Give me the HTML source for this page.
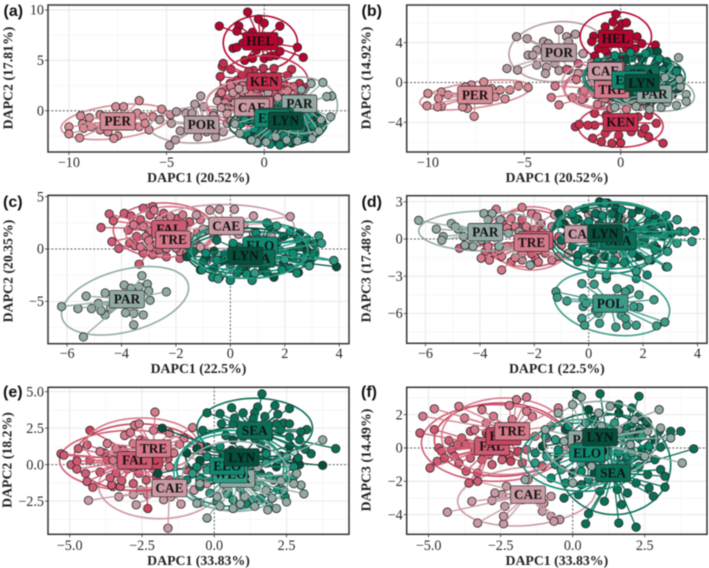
<!DOCTYPE html>
<html lang="en">
<head>
<meta charset="utf-8">
<title>DAPC scatter panels</title>
<style>
html,body{margin:0;padding:0;background:#fff;width:709px;height:568px;overflow:hidden}
svg{display:block;filter:blur(0.5px)}
text{font-family:"Liberation Serif",serif}
</style>
</head>
<body>
<svg id="chart" width="709" height="568" viewBox="0 0 709 568" xmlns="http://www.w3.org/2000/svg"></svg>
<script>
// ---------- Panel (a) ----------
const aXTicks=[-10,-5,0];const aXLabels=['−10','−5','0'];
const aYTicks=[0,5,10];const aYLabels=['0','5','10'];
const aXTitle='DAPC1 (20.52%)';const aYTitle='DAPC2 (17.81%)';
const aPER=[[-10,-1.6],[-10,-2.3],[-9.45,-2.7],[-9.4,-.5],[-9.3,-1.3],[-8.95,-.7],[-8.4,-.4],[-7.6,.4],[-7.2,.4],[-6.4,1],[-7.5,-2.5],[-7.7,-2.75],[-8.4,-1.9],[-8,-2.1],[-9.25,-1.75],[-8.85,-1.6],[-6.5,-.25],[-6.2,-.6],[-5.7,-.6],[-5.25,.15],[-5.9,-1.9],[-6.4,-1.6],[-4.8,-.4],[-6.1,-1.25]];
const aPOR=[[-4.85,-3.45],[-4.55,-2.9],[-4.3,-2],[-5.35,-.9],[-4.5,-.1],[-4,-.25],[-3.7,-.25],[-3.25,1.45],[-3.55,.65],[-3.1,.4],[-2.5,-2.6],[-2.95,-2.1],[-2.1,-2.1],[-1.9,-1.25],[-2.6,-.25],[-4.75,-1.25],[-3.4,-2.6]];
const aHEL=[[-.85,9.8],[-2.3,8.4],[-.3,9.1],[0,8.7],[.8,8.4],[-1.3,8.4],[-1.4,7.9],[-1.6,6.2],[-1.4,6.3],[1.7,6.3],[2,5.3],[.75,6.9],[-1,5],[-.6,5.2],[0,5.2],[.3,5.4],[.6,5.5],[.8,5.9],[-.4,6],[-.8,7.4],[-.6,7.8],[-1.1,6.7],[.1,6.7]];
const aKEN=[[-2.15,4.4],[-1.7,4.1],[-2.25,3.4],[-2.1,4.7],[1.4,4.1],[1.2,3.5],[.5,4.2],[-.05,4.2],[-.55,4],[-1.15,3.5],[-.8,3.9],[-1.4,3],[-1.75,2.7],[1.8,2.7],[2.1,2.3],[1,2.7],[-.2,2.2],[-.9,2],[.45,2]];
const aFAL=[[-2.1,2.2],[-1.5,2.6],[-.8,2.7],[.1,2.8],[.8,2.6],[1.5,2.4],[2,2],[-1.9,1.2],[-1.2,1.6],[-.3,1.5],[.5,1.7],[1.1,.8],[-1.1,.4],[-1.6,.3],[-.7,1.1],[.2,.5],[1.7,1.5],[-2.3,1.5],[.9,2]];
const aTRE=[[-2.2,1.8],[-1.7,2.4],[-1.1,2.5],[-.3,2.6],[.5,2.5],[1.2,2],[1.8,1.3],[-2,.8],[-1.4,1.3],[-.7,1.7],[.1,1.1],[.9,1.1],[1.4,-.1],[-.6,.4],[-1.9,.3],[-.9,1],[.4,.6],[1.6,.6],[-1.3,-.3],[-.2,-.2]];
const aCAE=[[-2.4,1],[-2,.2],[-1.6,1.8],[-1,2.1],[-.4,2.2],[-1.9,-.3],[-2.6,-.5],[.2,1.8],[.7,1.3],[-1.2,-1],[-.6,1],[.9,.4],[-1.5,.8],[-1.7,-1],[-.9,-.5],[0,.4],[-2.2,.3],[-1.3,2.2]];
const aPAR=[[3,2.8],[3.45,1.45],[3.2,1.4],[3.4,-.6],[2.45,-2.75],[-.4,-3.1],[-.65,-2.9],[-1.25,-2.25],[1.9,2.1],[2.4,2.7],[.1,-3.1],[1.15,-2.9],[2.9,-.9],[-1.5,-1.3],[.6,-2.6],[1.7,-3],[2.8,-2]];
const aSEA=[[1,-3.2],[.1,-2.9],[1.5,-2.5],[-.2,-2],[2,-1.3],[2.6,-1.7],[.7,-1],[1.3,-.3],[.3,-1.7],[1,-1.6],[1.8,-.9],[-.5,-1],[2.3,-2.3]];
const aELO=[[-.3,-3.2],[.3,-3.3],[.8,-3.4],[1.3,-3.1],[1.8,-2.7],[-.9,-2.3],[-1.2,-1.3],[2.5,-1.5],[2.9,-1.2],[-.5,-1.8],[.2,-2.4],[1,-2.5],[1.5,-2],[2.2,-.7],[-1.2,-.4],[.5,-1.6],[-1,-.9],[-.3,-.6],[.6,-.5],[1.2,-1.2],[1.9,-1.8],[2.4,-.3],[-.7,-2.9],[.1,-1.4],[1.6,-3]];
const aLYN=[[0,-2.5],[.6,-3],[1.1,-2.7],[1.7,-2.3],[2.3,-2],[-.5,-2.4],[2.7,-.8],[-.8,-1],[.9,-1.9],[1.5,-1],[2.1,-.1],[.3,-.5],[.4,-1.3],[1.2,-2.2],[2,-1.1],[-.3,-1.2],[.6,-2.2],[2.6,-1.4],[1.4,-3.2],[-.2,-3],[2.2,-2.6]];
const aGroups=['PER','POR','HEL','KEN','FAL','TRE','CAE','PAR','SEA','ELO','LYN'];
const aPoints=[aPER,aPOR,aHEL,aKEN,aFAL,aTRE,aCAE,aPAR,aSEA,aELO,aLYN];
const aCenters=[[-7.5,-1.05],[-3.2,-1.4],[-.2,6.9],[0,2.9],[-.4,.6],[-.45,.5],[-.63,.33],[1.8,.7],[.6,-.6],[.4,-.75],[1.1,-1]];
const aEllipses=[[-7.6,-1.1,2.82,1.65,-7],[-3.3,-1.4,2.55,1.8,-3],[-.2,6.75,1.9,2.7,0],[0,2.9,2.25,2.55,0],[-.55,.75,2.4,2.3,0],[-.4,.9,2.55,2.15,0],[-.8,.4,2.2,2.65,0],[1.85,.55,1.9,2.8,0],[.95,-1.4,2.2,2.05,0],[.45,-1.25,1.9,2.15,0],[.7,-1.4,2.5,1.85,0]];

// ---------- Panel (b) ----------
const bXTicks=[-10,-5,0];const bXLabels=['−10','−5','0'];
const bYTicks=[-4,0,4];const bYLabels=['−4','0','4'];
const bXTitle='DAPC1 (20.52%)';const bYTitle='DAPC3 (14.92%)';
const bPER=[[-10,-1.1],[-10.05,-2.35],[-9.3,-.95],[-9.45,-1.6],[-9.3,-2.4],[-9.5,-2.45],[-8.95,-1.25],[-7.1,.05],[-7.75,-.25],[-7.6,-3.4],[-7.95,-2.6],[-8.2,-2.45],[-6,-1.65],[-6.25,-.75],[-5.75,-.75],[-5.3,-.35],[-4.8,-.5],[-6.7,-.6],[-6.5,-1.45],[-8.05,-.45]];
const bPOR=[[-5.4,4.6],[-4.85,4.4],[-5.9,1.4],[-5.35,1.25],[-3.2,5.3],[-2.8,4.6],[-2.35,4.85],[-4.35,3.25],[-4.8,2.75],[-4.55,2.75],[-4,4.1],[-3.75,3.9],[-4.35,1.75],[-3.85,1.55],[-3.9,.9],[-3.4,1.9],[-1.95,2.9],[-2.7,1.25],[-2.7,4.1],[-3.2,1.2]];
const bHEL=[[-.25,6.85],[-.8,5.6],[-.4,6.1],[.05,5.9],[.3,6],[-1.4,4.65],[-1.5,4.1],[.85,4.6],[1.8,3.75],[-1.35,2.65],[-.65,2.75],[.75,3.4],[1.1,3.9],[-.1,5.25],[-.8,3.25],[.3,3.4],[-1.15,3.4],[.05,2.6]];
const bKEN=[[-2.35,-4.45],[-2.15,-4.2],[2.2,-6.1],[1.85,-4.1],[1.45,-5.45],[-1.45,-5.6],[-1,-5.95],[-.45,-6.1],[0,-6.05],[-1.35,-4.3],[-1.7,-4.3],[-.8,-5.1],[.55,-4.95],[1.1,-5.1],[1.25,-4.6],[.9,-3.45],[-.75,-3.3],[-1.35,-3.1],[1.45,-3.3],[-.1,-5.3]];
const bFAL=[[-2.8,1.3],[-2.2,1.9],[-1.5,2],[-.8,1.9],[-1.9,-1.6],[-1.3,-1.2],[-.6,-1.7],[.2,-1.9],[.8,-.3],[1.6,-1.9],[-1,.7],[-.2,.5]];
const bCAE=[[-2.2,.9],[-1.7,-.2],[-1.3,1.7],[-.6,1.4],[.1,2],[.7,.8],[-.3,-1],[-1,-2],[.4,-1.4],[-2,-.9],[-.8,.2]];
const bTRE=[[-3.4,-.35],[-3.6,-1.5],[-3.2,-2.25],[-2.3,.3],[-1.9,-.8],[-1.6,1],[-1.2,-2.2],[-.5,-2.6],[.3,-2.7],[1,-2.4],[.5,.4],[-1,.1],[-2.5,-1.5],[-.2,1.3],[-2,-1.7],[-1.4,-.8],[-.8,-1.6],[-.1,-1.3],[.6,-1.9],[1.5,-2.5]];
const bPAR=[[3,2.5],[3.4,-1.2],[3.4,-1.9],[3.1,-.4],[2.9,-2.3],[2.1,-2.5],[1.5,-2.7],[-.3,-2.5],[3.05,.3],[2.6,-1.3],[1.2,-1.8],[.3,-1.6],[2.3,.5],[2.4,-2],[1.9,-1],[.8,-2.4]];
const bSEA=[[-.2,2.2],[.6,2.5],[1.5,3.1],[2.2,1.3],[2.8,-.1],[1,1.6],[.3,-.6],[1.5,-.7],[2.3,-1.6],[-1,1.2],[.1,1],[1.9,2.2],[.9,.2],[2.5,.8],[2.7,-1.2]];
const bELO=[[-1.2,2.1],[-.3,2.7],[.5,3],[1.3,2.9],[2,2.4],[2.6,1.5],[3,.5],[-.6,.9],[.4,1.2],[1.4,1],[2,.1],[.8,-.9],[2.4,-.8],[-.2,-.3],[-1.5,1.2],[-.7,1.8],[.1,.5],[1,.2],[1.8,1.5],[2.5,.7],[3.1,-.2],[.3,-.8],[1.5,-1.5],[2.9,1.1]];
const bLYN=[[-.5,1.6],[.3,2.3],[1.1,2.4],[1.9,3.1],[2.4,2.1],[2.9,1.2],[-.1,.3],[1.3,.5],[2.5,-.3],[.7,-1.3],[1.8,-1.5],[-.9,.6],[.1,1.4],[.8,1.4],[1.7,.9],[2,-.7],[3,-.6],[.2,-1.7],[1.2,-.7]];
const bGroups=['PER','POR','HEL','KEN','FAL','CAE','TRE','PAR','SEA','ELO','LYN'];
const bPoints=[bPER,bPOR,bHEL,bKEN,bFAL,bCAE,bTRE,bPAR,bSEA,bELO,bLYN];
const bCenters=[[-7.55,-1.25],[-3.2,3],[-.25,4.4],[0,-4],[-.7,1.2],[-.8,1.15],[-.45,-.7],[1.75,-1.15],[1.1,.85],[.45,.25],[1.1,-.05]];
const bEllipses=[[-7.55,-1.25,2.9,1.3,-8],[-3.25,3.1,2.55,3,-5],[-.25,4.6,1.85,2.5,0],[0,-4.4,2.2,2.1,0],[-1.05,-.6,1.9,2,0],[-1,-.1,2.05,2.35,0],[-.65,-.75,2.25,2,0],[1.45,-.75,2.4,2,10],[.75,.55,2.6,2.35,0],[.55,.55,2.5,2.35,0],[.9,.25,2.25,2.5,0]];

// ---------- Panel (c) ----------
const cXTicks=[-6,-4,-2,0,2,4];const cXLabels=['−6','−4','−2','0','2','4'];
const cYTicks=[-5,0,5];const cYLabels=['−5','0','5'];
const cXTitle='DAPC1 (22.5%)';const cYTitle='DAPC2 (20.35%)';
const cPAR=[[-6.2,-5.5],[-5.4,-8.4],[-5.3,-4.5],[-5.6,-5.7],[-5.1,-5.7],[-4.85,-5.2],[-4.6,-4.2],[-4.6,-6.3],[-4.75,-5.9],[-3.9,-3.45],[-3.25,-2.55],[-3.05,-3.35],[-3.35,-3.6],[-3,-4],[-2.35,-4.1],[-2.95,-4.9],[-3.2,-6.3],[-3.55,-6.15],[-3.55,-7.25],[-3.85,-6.1],[-3.65,-3.75],[-4.4,-5.65]];
const cFAL=[[-4.75,2.05],[-4.45,3.35],[-4.3,2.7],[-4.35,.7],[-4.1,.05],[-3.9,3.4],[-3.65,3.15],[-3.2,3.9],[-2.85,4.05],[-3.35,-1.45],[-3.75,1.8],[-3.7,.55],[-3.2,-.4],[-2.85,-.55],[-2.35,-.75],[-1.85,-.9],[-3.3,2.8],[-2.95,3.25],[-2.45,3.4],[-1.95,2.9],[-1.5,2.6],[-3.45,1.2],[-3,1.5],[-2.6,.9],[-2.2,2.3],[-1.8,1.6],[-1.5,.4],[-3.5,.3],[-2.6,-.1],[-2,.5],[-2.7,2.4],[-1.7,2.3]];
const cTRE=[[-3.2,2.15],[-3.1,1.2],[-2.95,.2],[-2.6,2.8],[-2.2,3.1],[-1.75,3.25],[-1.1,2.8],[-.85,1.8],[-1.25,.55],[-1.85,-.25],[-3.55,2.3],[-3.3,.2],[-2.35,.05],[-1.5,1.2],[-2.8,3.7],[-2.9,1.7],[-2.4,1.4],[-2,1.9],[-2.7,.5],[-2,.1],[-1.2,1.6],[-3,.8],[-1.6,-.4]];
const cCAE=[[2.2,3.1],[.85,3.15],[.15,3.8],[-.4,3.8],[-.75,3.7],[-1.25,3.25],[1.35,2.45],[-.6,1.2],[-1.1,.2],[-1.85,1.8],[.1,.2],[-.85,-1.05],[.85,1.5],[-.3,2.6],[.5,2.3],[-1,1.9],[1.5,1.3],[.3,1.4]];
const cWEO=[[-.45,-2.85],[3.8,-1.1],[2.9,-1.6],[3.25,1.25],[3.35,.55],[1.7,2.2],[.9,-2.3],[2,-1],[.2,-.8],[1.2,.9]];
const cELO=[[3.8,-1.1],[-1.05,-2],[-.65,-2.7],[0,-3],[.8,-3],[2.45,-2.3],[2.9,-1.6],[2.8,.85],[2.2,1.65],[1.35,2.5],[.95,1.5],[.1,.55],[1.35,-.75],[2.3,-.4],[-.5,-1.05],[.5,-.6],[1,.9],[1.8,-.1],[2.5,.9],[0,-1.5],[.6,-2.4],[1.9,-2],[-.9,-.4],[2.7,-.9],[1.4,.3]];
const cSEA=[[-.4,-2.7],[.25,-2.3],[1.35,-2.3],[2.2,-1.85],[3.05,-.4],[2.55,.2],[1.7,.55],[-1,-1.2],[.7,.85],[-.5,.85],[1.45,2.15],[-1.35,-.25],[.3,.2],[1,-.2],[2,-.9],[.6,-1.4],[-.2,-.5],[1.4,-1.4],[2.7,-1.2],[3.1,.5]];
const cLYN=[[3.9,-1.7],[0,-3],[.8,-3],[1.6,-2.7],[2.5,-2.25],[-1.1,-2],[-.6,-1.85],[2.95,-1.05],[2.8,-.1],[1.95,-1.35],[.35,-2],[-1.6,-.75],[2.55,1.5],[1.95,1.2],[1.1,.2],[.3,-.9],[.9,-1.2],[1.5,-.6],[2.3,-.8],[2.6,.3],[-.3,-1.1],[-.9,-.9],[.6,-1.6],[1.2,-2],[2.2,-1.8],[-.6,-.2],[1.6,.7]];
const cGroups=['PAR','FAL','TRE','CAE','WEO','ELO','SEA','LYN'];
const cPoints=[cPAR,cFAL,cTRE,cCAE,cWEO,cELO,cSEA,cLYN];
const cCenters=[[-3.8,-4.8],[-2.25,1.9],[-2.1,.9],[-.15,2.2],[.9,-.5],[1.1,.3],[1,-.9],[.55,-.65]];
const cEllipses=[[-3.87,-4.95,2.4,2.95,-15],[-2.45,1.8,1.85,2.6,0],[-2.2,1.65,1.65,2.4,0],[-.25,2.15,2.6,2.1,0],[.7,-.1,2.15,2.7,0],[.8,.2,2.35,2.4,0],[.85,-.4,2.4,2.05,0],[.6,-.4,2.2,2.4,0]];

// ---------- Panel (d) ----------
const dXTicks=[-6,-4,-2,0,2,4];const dXLabels=['−6','−4','−2','0','2','4'];
const dYTicks=[-6,-3,0,3];const dYLabels=['−6','−3','0','3'];
const dXTitle='DAPC1 (22.5%)';const dYTitle='DAPC3 (17.48%)';
const dPAR=[[-6.25,1.5],[-5.6,.8],[-5.05,1.25],[-5.35,.2],[-5.4,-.1],[-4.8,.8],[-4.6,.2],[-4.55,-.5],[-3.85,2.05],[-3.55,2.05],[-3.25,1.55],[-3.7,1.55],[-2.95,.45],[-3.3,-.6],[-2.15,-2.1],[-3.95,-.1],[-4.9,1],[-2.55,.6],[-4.25,-.6]];
const dFAL=[[-4.45,-.6],[-4.75,-.75],[-3.3,.45],[-3.45,-1.15],[-2.85,-1.85],[-1.95,-1.55],[-1.6,-1.15],[-1.1,.2],[-1.75,1.25],[-2.45,1.55],[-3.15,1.25],[-2.7,-.5],[-2.2,-.75],[-2,.75],[-2.9,.8],[-3.8,-1],[-2.1,-1.2],[-1.4,-.5],[-2.6,.9]];
const dTRE=[[-3.2,-2.5],[-3.4,2.4],[-2.45,2.55],[-2.1,2.05],[-1.9,1.8],[-2.85,1.65],[-2.7,1],[-3.95,-1.55],[-3.65,-1.7],[-3.2,-1.4],[-2.45,-1.7],[-1.85,-1.85],[-1.35,-1.7],[-1.1,-1.4],[-1,-.5],[-1.35,1],[-3.7,-.6],[-3,-.6],[-2.45,-1.15],[-1.85,-.9],[-3,.9],[-2.3,1],[-1.7,.5],[-3.3,-.9],[-2.7,-1.5]];
const dCAE=[[-1.25,1.95],[-.75,2.35],[.35,-1.4],[-.75,-1.15],[-1.35,-.35],[1,-1.4],[1.7,.45],[1.2,1.55],[0,1.95],[-.6,.7],[.25,.2]];
const dPOL=[[-1.2,-4.25],[-1.15,-4.7],[-.8,-5],[-.25,-3.6],[.2,-3.65],[-.2,-4.8],[-.2,-5.45],[-.1,-5.2],[-.25,-6.4],[-.15,-6.95],[.4,-6.8],[.35,-6],[1,-7.1],[1.4,-6.95],[1.75,-6.95],[2.5,-7],[2.8,-6.7],[2.4,-4.9],[1.85,-5.5],[1.85,-4.5],[1.5,-4.05],[1.35,-4.25],[1.05,-4],[1.65,-5.45],[1.2,-6.15],[1.35,-6.4],[.25,-5.75]];
const dWEO=[[2.9,-2.25],[3.8,-.2],[3.25,-.35],[2.9,-1],[3.55,.6],[3.25,1.55],[1.75,-2.6],[.1,-2.8],[2.2,-1.7],[.65,-2.9]];
const dELO=[[2.15,-2.9],[1.75,-2.6],[1.75,-3.2],[.65,-3.2],[.1,-2.8],[2.85,-2.25],[3.25,1.55],[2.85,1.9],[3.35,.6],[3.9,.65],[2.9,-1],[2.45,-.9],[.6,2.9],[-.6,2.05],[-1.1,1.25],[-.4,-1.85],[1.2,2.35],[2.2,2.05],[.95,-1.7],[1.6,-1.15],[.35,-.6],[2.05,.7],[0,1.4],[.5,1.9],[1,.9],[1.6,1.3],[2.4,1.3],[.2,-.2],[.9,-.7],[1.8,-.4],[-.7,.6],[2.8,.3],[-.2,-.9],[1.3,-1.9]];
const dSEA=[[-1,-.1],[-.5,1.55],[.25,2.05],[.85,2.05],[1.6,2.05],[2.05,-.1],[.25,-.9],[.85,-1.95],[1.35,-1.85],[2.45,.45],[-.6,-.6],[2.7,1.25],[.6,.7],[-.2,.9],[.4,1.2],[1.1,1.2],[1.8,.8],[2.2,1.4],[.5,-.5],[1.3,-.7],[-.4,-1.3],[2.4,-.5]];
const dLYN=[[3.9,.65],[.4,3],[.7,2.9],[-.15,2.45],[1.85,2.35],[2.45,1.65],[2.95,1],[2.5,-.75],[-.4,-1.4],[.2,-1.7],[-1.1,2.05],[1.1,1.8],[0,.7],[1.2,-.35],[.6,-1.4],[1.85,-1.4],[3.05,.45],[-.4,1.6],[.3,2],[1,2.5],[1.5,.8],[2.2,.7],[2.7,.2],[.1,-.9],[.9,-.9],[1.6,-.7],[-.8,.3],[-.9,1.2],[2.3,-1.7]];
const dGroups=['PAR','FAL','TRE','CAE','POL','WEO','ELO','SEA','LYN'];
const dPoints=[dPAR,dFAL,dTRE,dCAE,dPOL,dWEO,dELO,dSEA,dLYN];
const dCenters=[[-3.8,.55],[-1.95,-.1],[-2.1,-.3],[-.25,.4],[.8,-5.2],[.85,.6],[.95,-.1],[1.1,-.15],[.6,.45]];
const dEllipses=[[-3.9,.65,2.35,1.6,0],[-2.2,.05,1.7,2.3,0],[-2.1,.05,1.55,2.55,0],[0,.3,2,2.15,0],[.85,-5.2,2.15,2.5,10],[.85,1,2,1.9,0],[.85,.3,2.25,2.7,0],[.7,-.1,2.1,2.7,0],[.85,.45,2.2,2.4,0]];

// ---------- Panel (e) ----------
const eXTicks=[-5,-2.5,0,2.5];const eXLabels=['−5.0','−2.5','0.0','2.5'];
const eYTicks=[-2.5,0,2.5,5];const eYLabels=['−2.5','0.0','2.5','5.0'];
const eXTitle='DAPC1 (33.83%)';const eYTitle='DAPC2 (18.2%)';
const eCAE=[[-1.6,-4.35],[-4.35,-2.45],[-3.3,-2.2],[-2.8,-2.05],[-2.7,-2.75],[-1.75,-2.4],[-1.15,-2.7],[-.5,-2.6],[-1.5,-2.2],[-2.3,-2.05],[-.7,-1.75],[-.25,-1.3],[-3.5,-1.5],[-1.2,-1.05],[-2,-.8],[-2.55,-1.75]];
const eHEL=[[-4.3,2.35],[-2.3,-3],[-2,-.9]];
const eFAL=[[-5.3,.75],[-5.2,.65],[-4.7,1.1],[-4.4,1.35],[-4.95,0],[-4.75,.25],[-4.75,-.3],[-4.45,-.6],[-4.4,-1.15],[-4.2,-1.55],[-3.55,-1.4],[-3.25,-1.5],[-3.7,.3],[-3.95,-.5],[-2.8,-1.3],[-2.35,-1.05],[-3.4,-.6],[-4.3,.3],[-3.15,1],[-1.55,-1.05],[-.95,-.35],[-2.55,1.7],[-3.6,-.9],[-3,-.3],[-2.6,.5],[-2.1,-.3],[-1.6,.4],[-3.3,.4],[-3.8,.8],[-3.2,-1.1],[-2.6,-.6],[-1.9,-1.4]];
const eTRE=[[-2.05,3.6],[-2.75,2.7],[-2.6,2.8],[-3.1,2],[-3.7,1.45],[-2.1,2.35],[-1.55,2.15],[-.75,2.55],[-1.05,1.8],[-3.95,.9],[-3.5,.3],[-2.8,1.45],[-.5,1.25],[-1.4,.8],[-2.3,.3],[-2.8,-.15],[-1.55,-.15],[-3.4,1.1],[-3,.6],[-2.4,1.6],[-1.9,1.1],[-1.2,1.4],[-2.9,2.2],[-1.8,.4]];
const ePAR=[[3.75,1.7],[3,-1.4],[3.1,-2],[-.25,-3.65],[2.5,-2.55],[1.85,-3.1],[2.15,-3],[1.4,-2.85],[.2,-2.85],[.65,-3],[-.6,-2.65],[2.75,-1.3],[1.05,-2.2],[-.5,-1.3],[1.8,-1.75],[.45,-1.5],[.1,-2.2],[2.85,-.6],[1.3,-1.2],[.3,-.5],[2.3,-1.1],[.9,-2.7],[2,-2.3],[1.5,-.2],[.8,.3]];
const eWEO=[[1.35,-2.4],[.65,-2.4],[-.15,-1.95],[-.75,-.6],[2.4,-1.75],[2.75,-.8],[2.5,.55],[1.8,.1],[.65,.1],[-.25,-.35],[1.45,-1.5],[.3,-1.05],[.9,-1.6],[1.9,-.8],[.1,-2.5],[1.1,-.4],[2,-2.3],[-.5,-1]];
const eELO=[[1.9,-2.85],[2.45,-2.2],[1.1,-2.65],[.45,-2],[-.95,-1.05],[-.6,-.15],[-.25,.55],[2.6,-1.05],[2.75,-.15],[1.35,-1.05],[2.05,-1.05],[.2,1.25],[.9,1],[1.8,.75],[-.05,-1.05],[.7,-.6],[1.5,-.2],[2.2,-1.7],[0,.1],[.4,-1.3],[1,-2],[1.6,-2.3],[-.5,-1.5],[2.2,.3]];
const eSEA=[[1.65,4.85],[1.5,3.95],[.6,3.9],[-.25,3.55],[.2,3.5],[1,3.55],[1.4,3.55],[1.75,3.3],[2.2,3.45],[2.6,3.85],[2.1,4.05],[3.2,2.4],[4.2,1.1],[3,2.25],[3.35,.75],[3.15,1.05],[.25,2.8],[2.4,2.85],[2.15,2.8],[1.9,1.9],[2.6,1.9],[2.95,1.7],[2.9,.45],[1.35,3.15],[.65,2.8],[-.4,2.35],[1.6,1.45],[1,1.9],[1.2,2.5],[1.8,2.6],[.9,2.2],[2.3,2.4],[.4,2],[1.4,1.8],[.7,3.2],[2.6,2.8]];
const eLYN=[[3.75,-.05],[2.95,0],[-1.8,2.5],[-1.95,-.6],[-.95,.8],[-.25,1.2],[.65,1.7],[1.6,2.15],[2.6,1.25],[2.85,.3],[1.6,-.6],[.9,-.8],[.1,-.35],[2.15,-.15],[-.5,.3],[1.25,.55],[.3,.6],[1,.3],[1.8,1],[2.3,.6],[.6,1],[-.6,1.1],[1.4,-.2]];
const eGroups=['CAE','HEL','FAL','TRE','PAR','WEO','ELO','SEA','LYN'];
const ePoints=[eCAE,eHEL,eFAL,eTRE,ePAR,eWEO,eELO,eSEA,eLYN];
const eCenters=[[-1.55,-1.6],[-2.4,.3],[-2.75,.3],[-2.1,1.1],[.8,-.95],[.55,-.65],[.45,-.1],[1.4,2.35],[.95,.5]];
const eEllipses=[[-1.9,-1.45,2.1,2.25,0],[-2.6,.5,2.25,2.3,0],[-2.85,.3,2.5,2.05,0],[-2.5,1.35,1.95,1.85,0],[.75,-.8,1.85,2.4,0],[.55,-.5,1.95,2.6,0],[.55,-.25,1.85,2.6,0],[1.4,2.5,2,2.05,0],[.95,.65,1.95,1.95,0]];

// ---------- Panel (f) ----------
const fXTicks=[-5,-2.5,0,2.5];const fXLabels=['−5.0','−2.5','0.0','2.5'];
const fYTicks=[-4,-2,0,2];const fYLabels=['−4','−2','0','2'];
const fXTitle='DAPC1 (33.83%)';const fYTitle='DAPC3 (14.49%)';
const fCAE=[[-4.35,-3.85],[-3.5,-3.2],[-3.3,-4.5],[-2.4,-4.55],[-2.4,-4.1],[-2.35,-3.5],[-2.45,-2.8],[-2.8,-3.15],[-2.7,-2.7],[-2.3,-2.3],[-1.05,-3.8],[-.75,-4.1],[-.45,-4.3],[-.65,-4.4],[-.75,-2.9],[-1,-3.3],[-1.75,-3.1],[-3.3,-2],[-1.55,-1.9]];
const fFAL=[[-5.3,.9],[-4.8,1.1],[-4.3,.45],[-4.65,0],[-4.55,-.2],[-4.45,-.6],[-4.7,-.8],[-4.95,-1.2],[-3.95,-.9],[-3.7,-1.4],[-3.3,-1.5],[-3.6,-2.1],[-3.3,-2],[-3.85,.6],[-3.55,1],[-3.15,-.7],[-2.45,-.7],[-1.75,-.9],[-4.2,-.1],[-2.8,-1],[-3.55,-.6],[-1.05,-1.1],[-3.7,.2],[-3.2,.3],[-2.7,.3],[-2.2,-.4],[-4,.2],[-3.4,-.2],[-2.9,-.4],[-1.6,-.1],[-2.4,.1],[-4.1,-.5]];
const fHEL=[[-2.15,-.8],[-3,.9],[-1.9,-.2]];
const fTRE=[[-1.6,3.05],[-1.95,2.9],[-2.2,2.55],[-3.95,2.5],[-4.8,2.35],[-5.2,1.9],[-3.75,1.8],[-3.15,2.3],[-2.75,1.9],[-.5,2.4],[-1.4,1.9],[-.75,1.3],[-2.1,1.7],[-3.4,1.1],[-1.3,.7],[-2.45,.5],[-3,1.5],[-2.5,1.1],[-1.9,1.2],[-.9,.6],[-2.9,.8],[-1.6,2.2]];
const fPAR=[[3,2.3],[3.05,1.2],[3.4,.6],[3.8,-.9],[.3,3.05],[1.3,2.5],[0,2.6],[-1.65,-1.9],[0,-2.1],[1,1.3],[2.15,1.7],[-.95,1.1],[-.5,2.1],[.65,-1.1],[2.5,-.5],[.4,.9],[1.6,1.1],[.2,-.3],[1.1,.2],[2,.2],[-.3,.4],[2.6,1],[.9,2.1]];
const fWEO=[[-.4,-1.3],[.3,-.9],[1.25,-1.3],[2.05,-.3],[1.45,1.5],[.45,1.5],[-.6,.5],[-1.3,-.9],[2.4,.7],[.8,-.6],[1.7,-1],[.9,.6],[-.1,.6],[-.9,-.5],[1.7,.7]];
const fELO=[[-.75,-1.8],[-.25,-2.1],[.55,-1.9],[1.45,-1.7],[2.3,-1.1],[2.65,.1],[2.05,1.5],[-1.3,-.3],[-.95,.7],[-.15,1.3],[.75,.1],[1.6,-.3],[.2,-.4],[1,-.7],[1.9,-.5],[-.6,-1],[.3,-1.4],[1.2,.8],[2.3,.6],[-.5,-.1]];
const fSEA=[[.15,3.2],[.95,3.25],[2.3,3.1],[1.6,2.6],[2.05,2.4],[2.3,1.9],[2.55,1.6],[3,1],[3.4,1],[3.75,1],[4.2,-.05],[3.05,.05],[2.6,-1.6],[3.05,-1.3],[3.2,-1.7],[3.2,-2.35],[2.8,-2.9],[2.65,-2.4],[2.2,-4.75],[1.6,-4.5],[1.7,-3.4],[1.9,-2.7],[1.55,-2.5],[.55,-3.95],[.45,-4.55],[.2,-2.8],[-.3,-3],[.95,-2.6],[2.2,-2.1],[2.85,-.7],[1,-1.8],[1.8,-.9],[.6,-1],[2.4,-.5],[1.3,.2],[2,.7],[1.1,-3.2],[.3,-2.2]];
const fLYN=[[.15,3.2],[.75,1.7],[1.6,2.1],[2.6,1.5],[2.4,-.1],[1.8,-1.1],[.75,-1.5],[-.5,-.5],[-.25,1.1],[.55,2.3],[1.35,.7],[2.85,.5],[0,-1.5],[2.05,.8],[-1.05,.1],[.4,.7],[1,1.2],[1.9,1.3],[.3,-.3],[1.1,-.2],[2,.2],[-.3,.4],[2.3,1]];
const fGroups=['CAE','FAL','HEL','TRE','PAR','WEO','ELO','SEA','LYN'];
const fPoints=[fCAE,fFAL,fHEL,fTRE,fPAR,fWEO,fELO,fSEA,fLYN];
const fCenters=[[-1.55,-2.8],[-2.8,.1],[-2.4,.7],[-2.1,1],[.45,.5],[.65,-.2],[.5,-.3],[1.4,-1.5],[.95,.65]];
const fEllipses=[[-1.6,-2.9,2.4,1.75,-5],[-2.7,.3,2.55,2.3,0],[-2.5,.5,2.3,2.2,0],[-2.35,.7,2.2,2.3,0],[.95,.5,1.95,2.3,0],[.3,-.3,1.85,2,0],[.35,-.55,2.15,2.05,0],[1.45,-1,1.95,3,0],[.85,.2,1.9,1.9,0]];

// ---------- Layout and styling (not data) ----------
const groupColors={HEL:'#b5062f',KEN:'#c5304f',FAL:'#cf5c73',TRE:'#d67a8b',CAE:'#c99aa3',PER:'#d68b95',POR:'#b79da1',PAR:'#93aaa4',WEO:'#2f9a84',ELO:'#0f8a72',SEA:'#0b6f58',LYN:'#03503d',POL:'#3c9c88'};
const softHel={HEL:'#c9445f'};
// paint order: dark greens first so the lighter green spiders lie over them; labels keep their own order
const paintRank={LYN:1,SEA:2,ELO:3,WEO:4,POL:5,PAR:6};
const layouts=[
 {id:'a',xd:[-11.07,4.34],yd:[-4.1,10.5],box:[48,5,349,152],xT:aXTicks,xL:aXLabels,yT:aYTicks,yL:aYLabels,xTitle:aXTitle,yTitle:aYTitle,groups:aGroups,points:aPoints,centers:aCenters,ellipses:aEllipses,tag:[3.5,16],xtY:167,tY:182,ytX:8,ytY:78},
 {id:'b',xd:[-11.1,4.48],yd:[-6.98,7.78],box:[406.7,5,707,152],xT:bXTicks,xL:bXLabels,yT:bYTicks,yL:bYLabels,xTitle:bXTitle,yTitle:bYTitle,groups:bGroups,points:bPoints,centers:bCenters,ellipses:bEllipses,tag:[361.5,16],xtY:167,tY:182,ytX:366,ytY:78},
 {id:'c',xd:[-6.7,4.36],yd:[-9.05,5.13],box:[48,195.3,349,343.7],xT:cXTicks,xL:cXLabels,yT:cYTicks,yL:cYLabels,xTitle:cXTitle,yTitle:cYTitle,groups:cGroups,points:cPoints,centers:cCenters,ellipses:cEllipses,tag:[3,207],xtY:358,tY:373,ytX:8,ytY:271},
 {id:'d',xd:[-6.69,4.35],yd:[-8.41,3.49],box:[406.7,195.7,707,343.3],xT:dXTicks,xL:dXLabels,yT:dYTicks,yL:dYLabels,xTitle:dXTitle,yTitle:dYTitle,groups:dGroups,points:dPoints,centers:dCenters,ellipses:dEllipses,tag:[361.5,207],xtY:358,tY:373,ytX:366,ytY:271},
 {id:'e',xd:[-5.75,4.66],yd:[-4.77,5.3],box:[48,387.3,349,534.3],xT:eXTicks,xL:eXLabels,yT:eYTicks,yL:eYLabels,xTitle:eXTitle,yTitle:eYTitle,groups:eGroups,points:ePoints,centers:eCenters,ellipses:eEllipses,tag:[3,397],xtY:550,tY:565,ytX:7,ytY:460,colors:softHel},
 {id:'f',xd:[-5.76,4.66],yd:[-5.18,3.64],box:[406.7,387.3,707,534.3],xT:fXTicks,xL:fXLabels,yT:fYTicks,yL:fYLabels,xTitle:fXTitle,yTitle:fYTitle,groups:fGroups,points:fPoints,centers:fCenters,ellipses:fEllipses,tag:[361,397],xtY:550,tY:565,ytX:366,ytY:460,colors:softHel}
];

const NS='http://www.w3.org/2000/svg';
const root=document.getElementById('chart');
function add(parent,tag,attrs,txt){
  const el=document.createElementNS(NS,tag);
  for(const k in attrs)el.setAttribute(k,attrs[k]);
  if(txt!==undefined)el.textContent=txt;
  parent.appendChild(el);
  return el;
}

function drawPanel(p){
  const [L,T,R,B]=p.box;
  const sx=d=>L+(d-p.xd[0])/(p.xd[1]-p.xd[0])*(R-L);
  const sy=d=>B-(d-p.yd[0])/(p.yd[1]-p.yd[0])*(B-T);
  const kx=(R-L)/(p.xd[1]-p.xd[0]);
  const ky=(B-T)/(p.yd[1]-p.yd[0]);
  const colorOf=n=>(p.colors&&p.colors[n])||groupColors[n];
  const g=add(root,'g',{});
  
  

  const bg=add(g,'rect',{x:L,y:T,width:R-L,height:B-T,fill:'#fff'});
  
  

  // minor grid
  const xStep=p.xT[1]-p.xT[0];
  for(let v=p.xT[0]-xStep/2;v<p.xd[1];v+=xStep){
    if(v<=p.xd[0])continue;
    const m=add(g,'line',{x1:sx(v),x2:sx(v),y1:T,y2:B,stroke:'#f2f2f2','stroke-width':.6});
    
    
  }
  const yStep=p.yT[1]-p.yT[0];
  for(let v=p.yT[0]-yStep/2;v<p.yd[1];v+=yStep){
    if(v<=p.yd[0])continue;
    const m=add(g,'line',{x1:L,x2:R,y1:sy(v),y2:sy(v),stroke:'#f2f2f2','stroke-width':.6});
    
    
  }
  // major grid and ticks
  p.xT.forEach((v,i)=>{
    const l=add(g,'line',{x1:sx(v),x2:sx(v),y1:T,y2:B,stroke:'#e8e8e8','stroke-width':1});
    
    
    const t=add(g,'line',{x1:sx(v),x2:sx(v),y1:B,y2:B+3,stroke:'#333','stroke-width':.8});
    
    
    const s=add(g,'text',{x:sx(v),y:p.xtY,'text-anchor':'middle','font-size':14.2,fill:'#2a2a2a'},p.xL[i]);
    
    
  });
  p.yT.forEach((v,i)=>{
    const l=add(g,'line',{x1:L,x2:R,y1:sy(v),y2:sy(v),stroke:'#e8e8e8','stroke-width':1});
    
    
    const t=add(g,'line',{x1:L-3,x2:L,y1:sy(v),y2:sy(v),stroke:'#333','stroke-width':.8});
    
    
    const s=add(g,'text',{x:L-4,y:sy(v)+4.7,'text-anchor':'end','font-size':14.2,fill:'#2a2a2a'},p.yL[i]);
    
    
  });
  // zero reference lines
  const hz=add(g,'line',{x1:L,x2:R,y1:sy(0),y2:sy(0),stroke:'#222','stroke-width':1,'stroke-dasharray':'1.2 2.6'});
  
  
  const vz=add(g,'line',{x1:sx(0),x2:sx(0),y1:T,y2:B,stroke:'#222','stroke-width':1,'stroke-dasharray':'1.2 2.6'});
  
  

  // series: ellipse, spider lines, then points for each group
  const order=p.groups.map((n,i)=>i).sort((m,n)=>((paintRank[p.groups[m]]||0)-(paintRank[p.groups[n]]||0))||(m-n));
  order.forEach(gi=>{
    const name=p.groups[gi];
    const col=colorOf(name);
    const sg=add(g,'g',{});
    
    
    const e=p.ellipses[gi];
    const c=p.centers[gi];
    const cxp=sx(e[0]),cyp=sy(e[1]),rx=e[2]*kx,ry=e[3]*ky,a=e[4]*Math.PI/180;
    let pts='';
    for(let i=0;i<=72;i++){
      const t=i/72*2*Math.PI;
      const ux=rx*Math.cos(t),uy=ry*Math.sin(t);
      pts+=(cxp+ux*Math.cos(a)-uy*Math.sin(a)).toFixed(1)+','+(cyp+ux*Math.sin(a)+uy*Math.cos(a)).toFixed(1)+' ';
    }
    const el=add(sg,'polyline',{points:pts,fill:'none',stroke:col,'stroke-width':1.6});
    
    
    p.points[gi].forEach(d=>{
      const pt=add(sg,'circle',{cx:sx(d[0]),cy:sy(d[1]),r:4.2,fill:col,stroke:'#222','stroke-width':.8});
      
      
    });
    p.points[gi].forEach(d=>{
      const dx=sx(d[0])-sx(c[0]),dy=sy(d[1])-sy(c[1]),len=Math.hypot(dx,dy)||1;
      const ln=add(sg,'line',{x1:sx(c[0]),y1:sy(c[1]),x2:sx(d[0])-dx/len*4.2,y2:sy(d[1])-dy/len*4.2,stroke:col,'stroke-width':1.3});
      
      
    });
  });
  // labels on top
  p.groups.forEach((name,gi)=>{
    const c=p.centers[gi];
    const lg=add(g,'g',{});
    
    
    add(lg,'rect',{x:sx(c[0])-17.5,y:sy(c[1])-8.8,width:35,height:17.6,rx:2,fill:colorOf(name),stroke:'#2a2a2a','stroke-width':.7});
    add(lg,'text',{x:sx(c[0]),y:sy(c[1])+4.4,'text-anchor':'middle','font-size':13.3,'font-weight':'bold',fill:'#111'},name);
  });
  // frame and titles
  const fr=add(g,'rect',{x:L,y:T,width:R-L,height:B-T,fill:'none',stroke:'#333','stroke-width':1.5});
  
  
  const xt=add(g,'text',{x:(L+R)/2,y:p.tY,'text-anchor':'middle','font-size':13.8,'font-weight':'bold',fill:'#222'},p.xTitle);
  
  
  const yt=add(g,'text',{x:0,y:0,transform:'translate('+(p.ytX+4.5)+','+p.ytY+') rotate(-90)','text-anchor':'middle','font-size':13.8,'font-weight':'bold',fill:'#222'},p.yTitle);
  
  
  const tg=add(g,'text',{x:p.tag[0],y:p.tag[1],'font-size':16,'font-weight':'bold',fill:'#111',style:'font-family:"Liberation Sans",sans-serif'},'('+p.id+')');
  
  
}
layouts.forEach(drawPanel);
</script>
</body>
</html>
